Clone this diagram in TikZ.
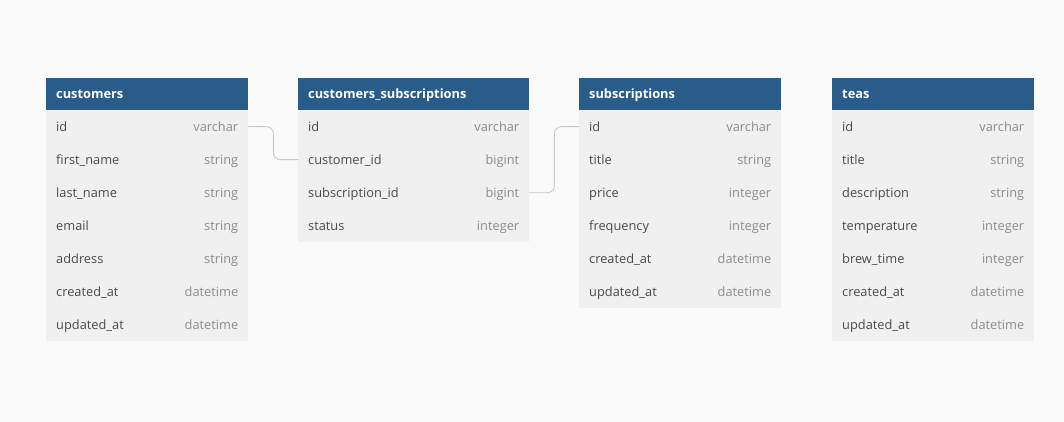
\documentclass[tikz,border=0pt]{standalone}
\usepackage{fontspec}
\setmainfont{Open Sans}
\usetikzlibrary{positioning}
\usepackage{xcolor}
\definecolor{headblue}{HTML}{2A5C8A}
\definecolor{rowgray}{HTML}{F0F0F0}
\definecolor{pagebg}{HTML}{FAFAFA}
\definecolor{fieldgray}{HTML}{4A4A4A}
\definecolor{typegray}{HTML}{8C8C8C}
\definecolor{linkgray}{HTML}{C8C8C8}

\begin{document}
\begin{tikzpicture}[x=1pt, y=-1pt,
		headbox/.style={fill=headblue, text=white, font=\fontsize{12.8}{15}\selectfont\bfseries,
			anchor=north west, inner xsep=10pt, inner ysep=0pt, minimum height=32pt, align=left,
			text height=12pt, text depth=3pt},
		rowbox/.style={fill=rowgray, font=\fontsize{12.8}{15}\selectfont,
			anchor=north west, inner xsep=10pt, inner ysep=0pt, minimum height=33pt, align=left,
			text height=12.5pt, text depth=3pt},
		link/.style={draw=linkgray, line width=0.9pt, rounded corners=7pt}]
			\fill[pagebg] (0,0) rectangle (1064,422);
			\useasboundingbox (0,0) rectangle (1064,422);

			% customers
			\node[headbox, text width=182pt] (customers) at (46,78) {customers};
			\foreach \f/\t [count=\i from 0] in {id/varchar, first\_name/string, last\_name/string, email/string, address/string, created\_at/datetime, updated\_at/datetime}
				\node[rowbox, text width=182pt] (customers-\i) at (46,110+33*\i) {\textcolor{fieldgray}{\f}\hfill\textcolor{typegray}{\t}};

			% customers_subscriptions
			\node[headbox, text width=211pt] (custsubs) at (298,78) {customers\_subscriptions};
			\foreach \f/\t [count=\i from 0] in {id/varchar, customer\_id/bigint, subscription\_id/bigint, status/integer}
				\node[rowbox, text width=211pt] (custsubs-\i) at (298,110+33*\i) {\textcolor{fieldgray}{\f}\hfill\textcolor{typegray}{\t}};

			% subscriptions
			\node[headbox, text width=182pt] (subscriptions) at (579,78) {subscriptions};
			\foreach \f/\t [count=\i from 0] in {id/varchar, title/string, price/integer, frequency/integer, created\_at/datetime, updated\_at/datetime}
				\node[rowbox, text width=182pt] (subscriptions-\i) at (579,110+33*\i) {\textcolor{fieldgray}{\f}\hfill\textcolor{typegray}{\t}};

			% teas
			\node[headbox, text width=182pt] (teas) at (832,78) {teas};
			\foreach \f/\t [count=\i from 0] in {id/varchar, title/string, description/string, temperature/integer, brew\_time/integer, created\_at/datetime, updated\_at/datetime}
				\node[rowbox, text width=182pt] (teas-\i) at (832,110+33*\i) {\textcolor{fieldgray}{\f}\hfill\textcolor{typegray}{\t}};

			% relations
			\draw[link] (customers-0.east) -- ++(25,0) |- (custsubs-1.west);
			\draw[link] (custsubs-2.east) -- ++(25,0) |- (subscriptions-0.west);
		\end{tikzpicture}
\end{document}
